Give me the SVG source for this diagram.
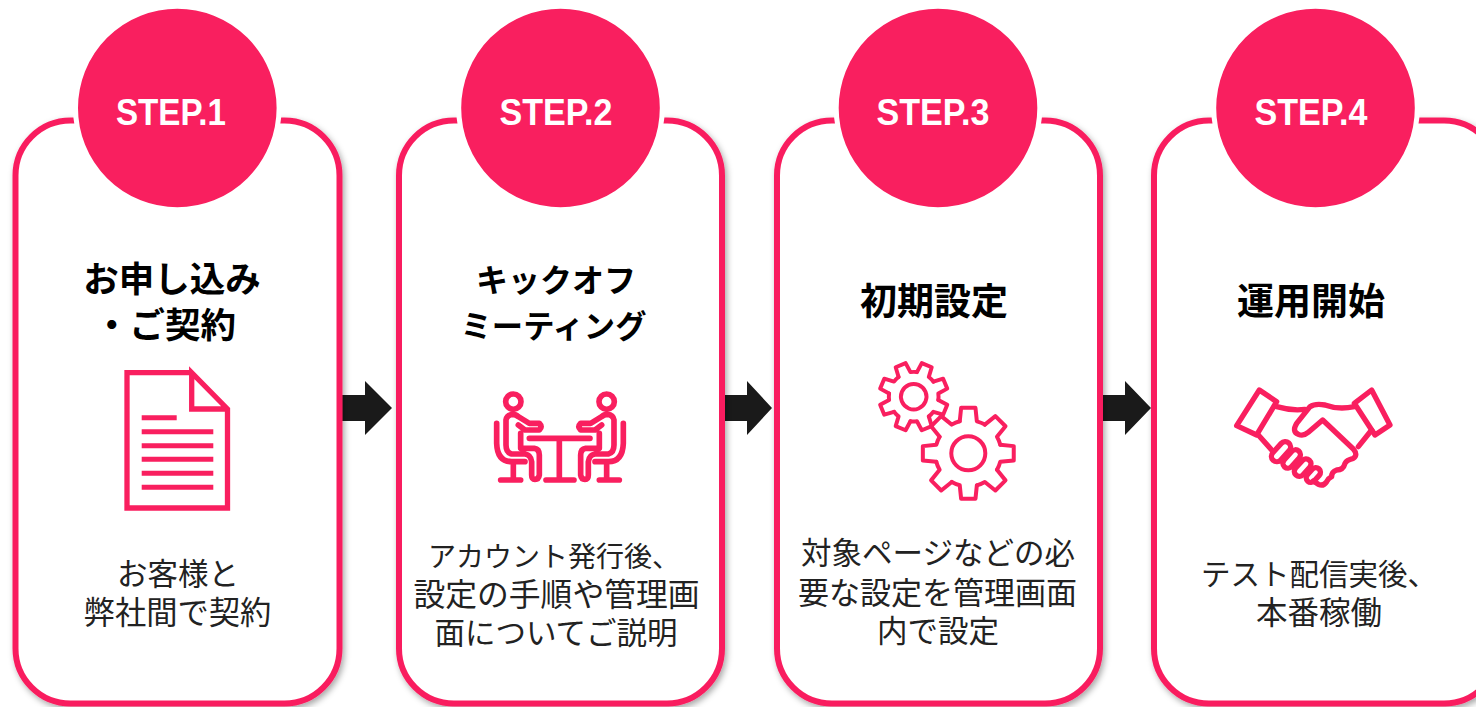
<svg xmlns="http://www.w3.org/2000/svg" width="1476" height="707" viewBox="0 0 1476 707">
<style>
text{font-family:"Noto Sans CJK JP","Liberation Sans",sans-serif;text-anchor:middle;fill:#111}
.card{fill:#fff;stroke:#f91f5f;stroke-width:6;filter:url(#sh)}
.disc{fill:#f91f5f;stroke:#fff;stroke-width:5}
.step{font-family:"Liberation Sans",Arial,sans-serif;font-size:36px;font-weight:700;fill:#fff}
.title{font-size:35.5px;font-weight:700;fill:#000}
.title2{font-size:37px;font-weight:700;fill:#000}
.desc{font-size:30.5px;font-weight:400;fill:#222}
.ic{fill:none;stroke:#f91f5f;stroke-linecap:round;stroke-linejoin:round}
.arrow{fill:#1a1a1a}
</style>
<defs>
<filter id="sh" x="-5%" y="-5%" width="110%" height="110%"><feDropShadow dx="2" dy="3" stdDeviation="3" flood-color="#000" flood-opacity=".35"/></filter>
<path id="tooth" d="M69.5 -18.6L98.8 -15.6L98.8 15.6L69.5 18.6A72 72 0 0 1 62.4 36"/>
<g id="gear">
<use href="#tooth"/><use href="#tooth" transform="rotate(45)"/><use href="#tooth" transform="rotate(90)"/><use href="#tooth" transform="rotate(135)"/>
<use href="#tooth" transform="rotate(180)"/><use href="#tooth" transform="rotate(225)"/><use href="#tooth" transform="rotate(270)"/><use href="#tooth" transform="rotate(315)"/>
<circle r="37"/>
</g>
<g id="person">
<circle cx="100" cy="65" r="23"/>
<path d="M122 160V205H163Q178 207 178 225V285Q176 298 165 298Q155 298 155 285V245Q153 225 135 222H95Q78 218 78 195V120Q80 105 98 103Q108 103 115 110L148 130H178Q188 140 178 150H135L115 135"/>
<path d="M50 130V190Q52 245 95 245H135M100 248V300M62 300H122"/>
</g>
</defs>

<g id="connectors">
<path class="arrow" d="M342 395H365V381L392 408L365 435V421H342Z"/>
<path class="arrow" d="M724 395H747V381L772 408L747 435V421H724Z"/>
<path class="arrow" d="M1102 395H1125V381L1151 408L1125 435V421H1102Z"/>
</g>

<g id="step1">
<rect class="card" x="15.5" y="120.5" width="324" height="583" rx="55"/>
<circle class="disc" cx="177.3" cy="108" r="101.8"/>
<text class="step" x="171" y="125" textLength="110" lengthAdjust="spacingAndGlyphs">STEP.1</text>
<text class="title" x="172" y="292">お申し込み</text>
<text class="title" x="165" y="338">・ご契約</text>
<path class="ic" stroke-width="5.3" style="stroke-linejoin:miter;stroke-linecap:butt" d="M191.7 372.7H127V508H227.5V409L191.7 372.7V409H227.5"/>
<path class="ic" stroke-width="5" style="stroke-linecap:butt" d="M141.7 417.7H176.7M141.7 431.7H213.3M141.7 445.7H213.3M141.7 459.3H213.3M141.7 473.3H213.3M141.7 487.3H213.3"/>
<text class="desc" x="178" y="585">お客様と</text>
<text class="desc" x="177.5" y="624" style="font-size:31.3px">弊社間で契約</text>
</g>

<g id="step2">
<rect class="card" x="399" y="120.5" width="323" height="583" rx="55"/>
<circle class="disc" cx="560.5" cy="108" r="101.8"/>
<text class="step" x="556" y="125" textLength="113" lengthAdjust="spacingAndGlyphs">STEP.2</text>
<text class="title" x="556" y="292" style="font-size:32px">キックオフ</text>
<text class="title" x="553.5" y="338" style="font-size:31.3px">ミーティング</text>
<g class="ic" transform="translate(480 380) scale(.3333)" stroke-width="17">
<use href="#person"/>
<use href="#person" transform="translate(480 0) scale(-1 1)"/>
<path d="M148 175H330M238 175V300M198 300H282"/>
</g>
<text class="desc" x="554" y="567" style="font-size:28px">アカウント発行後、</text>
<text class="desc" x="556.5" y="606" style="font-size:31.8px">設定の手順や管理画</text>
<text class="desc" x="556" y="644">面についてご説明</text>
</g>

<g id="step3">
<rect class="card" x="777" y="120.5" width="323" height="583" rx="55"/>
<circle class="disc" cx="938" cy="108" r="101.8"/>
<text class="step" x="933" y="125" textLength="113" lengthAdjust="spacingAndGlyphs">STEP.3</text>
<text class="title2" x="934" y="315">初期設定</text>
<g class="ic">
<use href="#gear" transform="translate(913.7 396.7) rotate(22.5) scale(.345)" stroke-width="11.5"/>
<use href="#gear" transform="translate(968.3 453.3) scale(.46)" stroke-width="8.7"/>
</g>
<text class="desc" x="938" y="564">対象ページなどの必</text>
<text class="desc" x="937.5" y="604" style="font-size:31px">要な設定を管理画面</text>
<text class="desc" x="938" y="642">内で設定</text>
</g>

<g id="step4">
<rect class="card" x="1154" y="120.5" width="345" height="583" rx="55"/>
<circle class="disc" cx="1315.5" cy="108" r="101.8"/>
<text class="step" x="1311" y="125" textLength="113" lengthAdjust="spacingAndGlyphs">STEP.4</text>
<text class="title2" x="1311" y="315">運用開始</text>
<g class="ic" transform="translate(1225 375) scale(.3333)" stroke-width="16">
<path d="M103 45L155 80L95 180L35 152ZM440 45L388 85L450 180L495 150Z"/>
<path d="M155 95Q200 108 240 103M388 95Q340 105 300 90Q270 85 255 95L215 145Q200 170 220 178Q235 185 250 172L293 135L385 222Q400 240 385 250Q365 255 360 265Q355 285 335 285Q320 290 320 305Q310 310 305 320Q295 335 280 328L265 318"/>
<path d="M100 180L140 225M400 215L440 165"/>
<rect x="-35" y="-16" width="70" height="32" rx="16" transform="translate(168 230) rotate(-48)"/>
<rect x="-32" y="-15" width="64" height="30" rx="15" transform="translate(200 252) rotate(-48)"/>
<rect x="-30" y="-15" width="60" height="30" rx="15" transform="translate(233 278) rotate(-48)"/>
<rect x="-25" y="-14" width="50" height="28" rx="14" transform="translate(265 300) rotate(-48)"/>
</g>
<text class="desc" x="1319" y="585" style="font-size:29.5px">テスト配信実後、</text>
<text class="desc" x="1319" y="624" style="font-size:31.5px">本番稼働</text>
</g>
</svg>
